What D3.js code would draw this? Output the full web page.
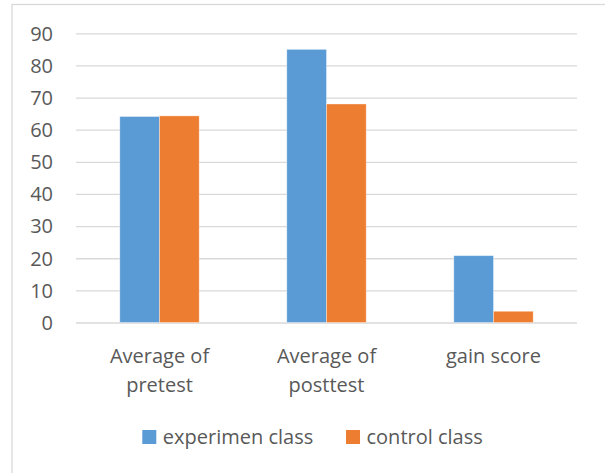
<!DOCTYPE html>
<html>
<head>
<meta charset="utf-8">
<script src="https://cdn.jsdelivr.net/npm/d3@7"></script>
<style>
  html, body { margin: 0; padding: 0; background: #fff; }
  svg { display: block; font-family: "Open Sans", sans-serif; }
</style>
</head>
<body>
<svg id="chart" width="605" height="473"></svg>
<script>
const categories = ["Average of pretest", "Average of posttest", "gain score"];
const categoryLines = [["Average of", "pretest"], ["Average of", "posttest"], ["gain score"]];
const seriesNames = ["experimen class", "control class"];
const experimenValues = [64.1, 85.0, 20.8];
const controlValues = [64.3, 68.0, 3.5];
const yTicks = [0, 10, 20, 30, 40, 50, 60, 70, 80, 90];
const colors = ["#5B9BD5", "#ED7D31"];

const svg = d3.select("#chart");
const textColor = "#595959";

// chart frame
svg.append("rect")
  .attr("x", 12).attr("y", 4.5)
  .attr("width", 620).attr("height", 500)
  .attr("fill", "#fff")
  .attr("stroke", "#D9D9D9").attr("stroke-width", 1.3);

const plot = { left: 76, right: 577, top: 33.3, bottom: 322.5 };

const y = d3.scaleLinear().domain([0, 90]).range([plot.bottom, plot.top]);
const x = d3.scaleBand().domain(categories).range([plot.left, plot.right]).paddingInner(0).paddingOuter(0);
const bw = x.bandwidth();
const barW = 39.7;
const xs = d3.scaleBand().domain(seriesNames).range([bw / 2 - barW, bw / 2 + barW]).padding(0);

// gridlines
const grid = svg.append("g").attr("transform", `translate(${plot.left},0)`)
  .call(d3.axisLeft(y).tickValues(yTicks).tickSize(-(plot.right - plot.left)).tickFormat(""));
grid.select(".domain").remove();
grid.selectAll(".tick line").attr("stroke", "#D9D9D9").attr("stroke-width", 1.3);

// y tick labels
const yAxis = svg.append("g").attr("transform", `translate(53,0)`)
  .call(d3.axisLeft(y).tickValues(yTicks).tickSize(0).tickPadding(0));
yAxis.select(".domain").remove();
yAxis.selectAll("text")
  .attr("fill", textColor)
  .attr("font-size", "20px")
  .attr("font-family", "'Open Sans', sans-serif")
  .attr("dy", "0.34em");

// bars
const table = categories.map((c, i) => ({
  cat: c,
  vals: [
    { s: seriesNames[0], v: experimenValues[i], c: colors[0] },
    { s: seriesNames[1], v: controlValues[i], c: colors[1] }
  ]
}));

const groups = svg.append("g").selectAll("g")
  .data(table).join("g")
  .attr("transform", d => `translate(${x(d.cat)},0)`);

groups.selectAll("rect")
  .data(d => d.vals).join("rect")
  .attr("x", d => xs(d.s))
  .attr("width", xs.bandwidth())
  .attr("y", d => y(d.v))
  .attr("height", d => y(0) - y(d.v))
  .attr("fill", d => d.c)
  .attr("stroke", "#fff").attr("stroke-opacity", 0.45).attr("stroke-width", 0.8);

// category labels
const xAxis = svg.append("g").attr("transform", `translate(0,${plot.bottom})`)
  .call(d3.axisBottom(x).tickSize(0).tickFormat(""));
xAxis.select(".domain").remove();
xAxis.selectAll(".tick").each(function(d, i) {
  const t = d3.select(this).append("text")
    .attr("fill", textColor)
    .attr("font-size", "20px")
    .attr("font-family", "'Open Sans', sans-serif")
    .attr("text-anchor", "middle");
  categoryLines[i].forEach((line, j) => {
    t.append("tspan").attr("x", 0).attr("y", 40 + j * 29.5).text(line);
  });
});

// legend
const legendItems = [
  { name: seriesNames[0], color: colors[0], x: 142.3 },
  { name: seriesNames[1], color: colors[1], x: 346 }
];
const lg = svg.append("g").selectAll("g").data(legendItems).join("g")
  .attr("transform", d => `translate(${d.x},430)`);
lg.append("rect").attr("width", 14).attr("height", 14).attr("fill", d => d.color);
lg.append("text")
  .attr("x", 20.5).attr("y", 13.5)
  .attr("fill", textColor)
  .attr("font-size", "20px")
  .attr("font-family", "'Open Sans', sans-serif")
  .text(d => d.name);
</script>
</body>
</html>
